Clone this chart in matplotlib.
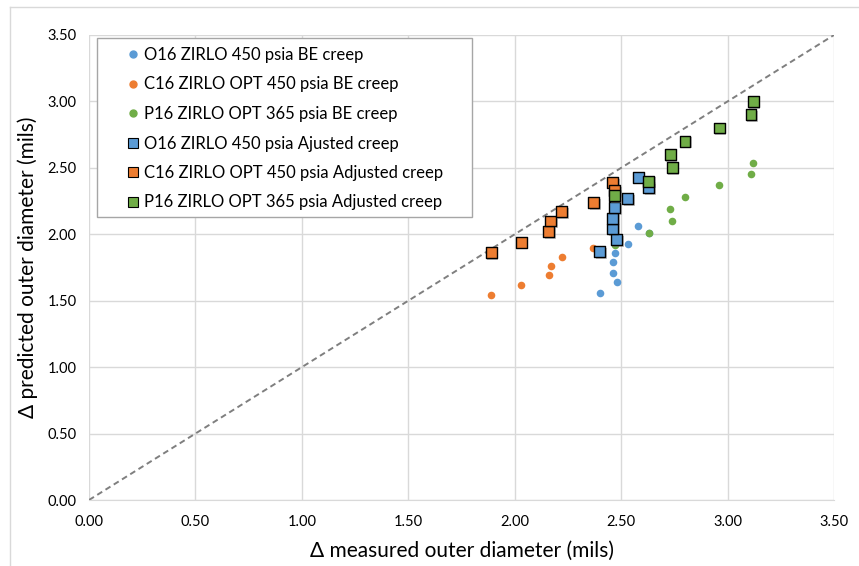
import matplotlib
matplotlib.use("Agg")
import matplotlib.pyplot as plt
import matplotlib.patheffects as pe
from matplotlib.lines import Line2D
from matplotlib.patches import Rectangle

plt.rcParams['font.family'] = ['Lato', 'DejaVu Sans']

# Data
o16_x = [2.40, 2.48, 2.46, 2.46, 2.47, 2.53, 2.58, 2.63]
o16_be = [1.56, 1.64, 1.71, 1.79, 1.86, 1.93, 2.06, 2.01]
o16_adj = [1.87, 1.96, 2.04, 2.12, 2.20, 2.27, 2.43, 2.35]

c16_x = [1.89, 2.03, 2.16, 2.17, 2.22, 2.37, 2.46, 2.47]
c16_be = [1.54, 1.62, 1.69, 1.76, 1.83, 1.90, 2.05, 1.99]
c16_adj = [1.86, 1.94, 2.02, 2.10, 2.17, 2.24, 2.39, 2.33]

p16_x = [2.47, 2.63, 2.74, 2.73, 2.80, 2.96, 3.11, 3.12]
p16_be = [1.92, 2.01, 2.10, 2.19, 2.28, 2.37, 2.45, 2.54]
p16_adj = [2.29, 2.40, 2.50, 2.60, 2.70, 2.80, 2.90, 3.00]

ticks = [0.0, 0.5, 1.0, 1.5, 2.0, 2.5, 3.0, 3.5]
tick_labels = ["0.00", "0.50", "1.00", "1.50", "2.00", "2.50", "3.00", "3.50"]

labels = ["O16 ZIRLO 450 psia BE creep",
          "C16 ZIRLO OPT 450 psia BE creep",
          "P16 ZIRLO OPT 365 psia BE creep",
          "O16 ZIRLO 450 psia Ajusted creep",
          "C16 ZIRLO OPT 450 psia Adjusted creep",
          "P16 ZIRLO OPT 365 psia Adjusted creep"]

blue, orange, green = "#5B9BD5", "#ED7D31", "#70AD47"

W, H = 859, 566
fig = plt.figure(figsize=(W / 100, H / 100), dpi=100)
L, R, T, B = 89, 834, 35, 500
ax = fig.add_axes([L / W, (H - B) / H, (R - L) / W, (B - T) / H])

# chart border (top & left visible)
fig.add_artist(Line2D([10 / W, 1], [1 - 7 / H, 1 - 7 / H], color="#D9D9D9", lw=1))
fig.add_artist(Line2D([10 / W, 10 / W], [0, 1 - 7 / H], color="#D9D9D9", lw=1))

ax.set_xlim(0, 3.5)
ax.set_ylim(0, 3.5)
ax.set_xticks(ticks)
ax.set_yticks(ticks)
ax.set_xticklabels(tick_labels)
ax.set_yticklabels(tick_labels)
ax.grid(True, color="#D9D9D9", lw=1)
ax.set_axisbelow(True)
for s in ["top", "right", "left"]:
    ax.spines[s].set_visible(False)
ax.spines["bottom"].set_color("#D9D9D9")
ax.tick_params(length=0, labelsize=10.5, colors="#000000")
ax.tick_params(axis="x", pad=11)
ax.tick_params(axis="y", pad=9)

ax.plot(ticks, ticks, linestyle=(0, (3, 2)), color="#7F7F7F", lw=1.4, zorder=2)

circ_kw = dict(s=30, marker="o", linewidths=0, zorder=3)
ax.scatter(o16_x, o16_be, color=blue, **circ_kw)
ax.scatter(c16_x, c16_be, color=orange, **circ_kw)
ax.scatter(p16_x, p16_be, color=green, **circ_kw)

shadow = [pe.SimplePatchShadow(offset=(1.2, -1.2), shadow_rgbFace="#808080", alpha=0.5), pe.Normal()]
sq_kw = dict(s=62, marker="s", edgecolors="#000000", linewidths=1.0, zorder=4)
for xs, ys, c in [(o16_x, o16_adj, blue), (c16_x, c16_adj, orange), (p16_x, p16_adj, green)]:
    sc = ax.scatter(xs, ys, color=c, **sq_kw)
    sc.set_edgecolor("#000000")
    sc.set_path_effects(shadow)

ax.set_xlabel("Δ measured outer diameter (mils)", fontsize=15, labelpad=8)
ax.set_ylabel("Δ predicted outer diameter (mils)", fontsize=15, labelpad=7)

# legend frame
fig.add_artist(Rectangle((97 / W, 1 - 217 / H), (472 - 97) / W, (217 - 38) / H,
                         transform=fig.transFigure, facecolor="white",
                         edgecolor="#A6A6A6", lw=1.0, zorder=5))

handles = [
    Line2D([], [], marker="o", ls="", color=blue, markersize=5),
    Line2D([], [], marker="o", ls="", color=orange, markersize=5),
    Line2D([], [], marker="o", ls="", color=green, markersize=5),
    Line2D([], [], marker="s", ls="", markerfacecolor=blue, markeredgecolor="k", markersize=6.5, markeredgewidth=0.8),
    Line2D([], [], marker="s", ls="", markerfacecolor=orange, markeredgecolor="k", markersize=6.5, markeredgewidth=0.8),
    Line2D([], [], marker="s", ls="", markerfacecolor=green, markeredgecolor="k", markersize=6.5, markeredgewidth=0.8),
]
leg = fig.legend(handles, labels, loc="upper left",
                 bbox_to_anchor=(128 / W, 1 - 47 / H), fontsize=12,
                 frameon=False, handlelength=0.6, handletextpad=0.36,
                 labelspacing=0.81, borderpad=0, borderaxespad=0)
leg.set_zorder(6)

fig.savefig("out.png", dpi=100)
